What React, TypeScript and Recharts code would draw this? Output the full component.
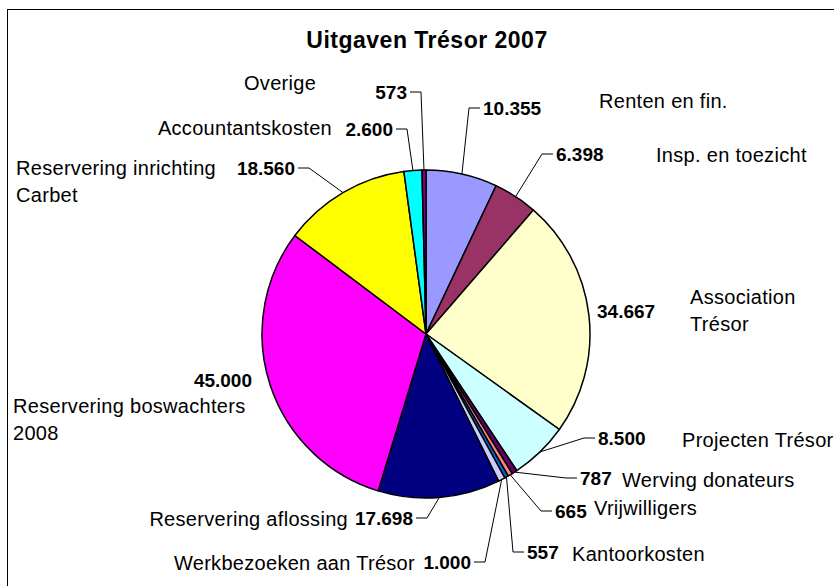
import { PieChart, Pie, Cell } from 'recharts';

// Uitgaven Trésor 2007 — clockwise from 12 o'clock
const NAMES = [
  'Renten en fin.',
  'Insp. en toezicht',
  'Association\nTrésor',
  'Projecten Trésor',
  'Werving donateurs',
  'Vrijwilligers',
  'Kantoorkosten',
  'Werkbezoeken aan Trésor',
  'Reservering aflossing',
  'Reservering boswachters\n2008',
  'Reservering inrichting\nCarbet',
  'Accountantskosten',
  'Overige',
];
const VALUES = [10355, 6398, 34667, 8500, 787, 665, 557, 1000, 17698, 45000, 18560, 2600, 573];
const COLORS = [
  '#9999ff', '#993366', '#ffffcc', '#ccffff', '#660066', '#ff8080', '#0066cc',
  '#ccccff', '#000080', '#ff00ff', '#ffff00', '#00ffff', '#800080',
];

// label placement (value label anchor + name anchor), Excel-style manual layout
const LAYOUT = [
  { vx: 483, vy: 108, va: 'start', nx: 599, ny: 101, na: 'start', leader: true },
  { vx: 556, vy: 154, va: 'start', nx: 656, ny: 155, na: 'start', leader: true },
  { vx: 597, vy: 311, va: 'start', nx: 690, ny: 297, na: 'start', leader: false },
  { vx: 598, vy: 438, va: 'start', nx: 682, ny: 440, na: 'start', leader: true },
  { vx: 580, vy: 478, va: 'start', nx: 622, ny: 480, na: 'start', leader: true },
  { vx: 555, vy: 511, va: 'start', nx: 594, ny: 508, na: 'start', leader: true },
  { vx: 527, vy: 552, va: 'start', nx: 572, ny: 554, na: 'start', leader: true },
  { vx: 471, vy: 562, va: 'end', nx: 415, ny: 563, na: 'end', leader: true },
  { vx: 413, vy: 518, va: 'end', nx: 348, ny: 519, na: 'end', leader: true },
  { vx: 252, vy: 380, va: 'end', nx: 13, ny: 406, na: 'start', leader: false },
  { vx: 295, vy: 168, va: 'end', nx: 16, ny: 168, na: 'start', leader: true },
  { vx: 393, vy: 129, va: 'end', nx: 332, ny: 128, na: 'end', leader: true },
  { vx: 407, vy: 92, va: 'end', nx: 244, ny: 83, na: 'start', leader: true },
];

const data = NAMES.map((name, i) => ({ name, value: VALUES[i] }));

const RAD = Math.PI / 180;
const FONT = '"Liberation Sans", Arial, sans-serif';

const fmt = (v: number) => String(v).replace(/\B(?=(\d{3})+(?!\d))/g, '.');

const renderLabel = (p: any) => {
  const { cx, cy, midAngle, outerRadius, index } = p;
  const L = LAYOUT[index];
  const ex = cx + outerRadius * Math.cos(-midAngle * RAD);
  const ey = cy + outerRadius * Math.sin(-midAngle * RAD);
  const dir = L.va === 'start' ? -1 : 1;
  const ax = L.vx + dir * 3;
  const bx = ax + dir * 11;
  const lines = NAMES[index].split('\n');
  return (
    <g key={`lbl-${index}`}>
      {L.leader && (
        <polyline
          points={`${ax},${L.vy} ${bx},${L.vy} ${ex},${ey}`}
          fill="none"
          stroke="#000"
          strokeWidth={1}
        />
      )}
      <text
        x={L.vx}
        y={L.vy}
        textAnchor={L.va}
        dominantBaseline="central"
        fontFamily={FONT}
        fontSize={19}
        fontWeight={700}
        fill="#000"
      >
        {fmt(VALUES[index])}
      </text>
      <text
        x={L.nx}
        y={L.ny}
        textAnchor={L.na}
        dominantBaseline="central"
        fontFamily={FONT}
        fontSize={20}
        letterSpacing={0.3}
        fill="#000"
      >
        {lines.map((ln, k) => (
          <tspan key={k} x={L.nx} dy={k === 0 ? 0 : 27}>{ln}</tspan>
        ))}
      </text>
    </g>
  );
};

export default function App() {
  return (
    <div style={{ position: 'absolute', left: 0, top: 0, width: 834, height: 586, overflow: 'hidden', background: '#fff' }}>
      <PieChart width={834} height={586} margin={{ top: 0, right: 0, bottom: 0, left: 0 }}>
        <Pie
          data={data}
          dataKey="value"
          nameKey="name"
          cx={426}
          cy={334}
          outerRadius={164}
          startAngle={90}
          endAngle={-270}
          stroke="#000"
          strokeWidth={1.5}
          label={renderLabel}
          labelLine={false}
          isAnimationActive={false}
        >
          {data.map((d, i) => (
            <Cell key={d.name} fill={COLORS[i]} stroke="#000" strokeWidth={1.5} />
          ))}
        </Pie>
      </PieChart>
      <svg width={834} height={586} style={{ position: 'absolute', left: 0, top: 0, pointerEvents: 'none' }}>
        <rect x={7.5} y={9.5} width={900} height={700} fill="none" stroke="#000" strokeWidth={1} />
        <text x={427} y={48} textAnchor="middle" fontFamily={FONT} fontSize={23} fontWeight={700} letterSpacing={0.5} fill="#000">
          Uitgaven Trésor 2007
        </text>
      </svg>
    </div>
  );
}
